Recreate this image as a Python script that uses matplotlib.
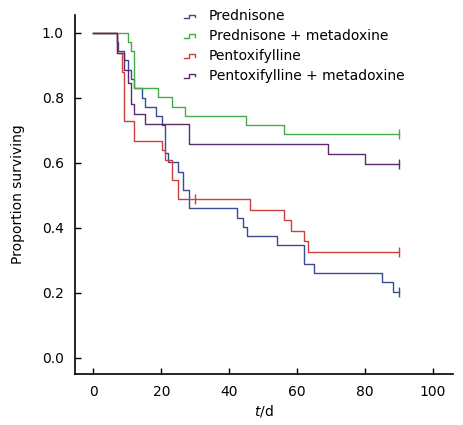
import matplotlib
matplotlib.use("Agg")
import matplotlib.pyplot as plt
from matplotlib.lines import Line2D
from matplotlib.legend_handler import HandlerBase

# Kaplan-Meier steps (days, proportion surviving)
pred_t = [0, 7.0, 7.4, 9.1, 10.1, 11.1, 12.1, 14.2, 15.3, 18.3, 20.1, 21.2, 22.1,
          25.0, 26.3, 28.2, 42.2, 44.1, 45.1, 54.1, 62.1, 65.0, 85.0, 88.2, 90]
pred_s = [1.0, 0.971, 0.943, 0.917, 0.886, 0.858, 0.830, 0.800, 0.771, 0.743, 0.716,
          0.630, 0.602, 0.573, 0.515, 0.460, 0.430, 0.402, 0.374, 0.346, 0.289, 0.260,
          0.232, 0.202, 0.202]

predm_t = [0, 10.1, 11.1, 12.1, 19.1, 23.2, 27.0, 44.9, 56.2, 90]
predm_s = [1.0, 0.972, 0.944, 0.830, 0.803, 0.772, 0.744, 0.716, 0.689, 0.689]

pent_t = [0, 7.1, 8.3, 9.0, 12.1, 20.1, 21.2, 23.2, 25.0, 46.1, 56.2, 58.3, 62.1, 63.2, 90]
pent_s = [1.0, 0.937, 0.880, 0.730, 0.668, 0.638, 0.607, 0.548, 0.489, 0.455, 0.424,
          0.391, 0.358, 0.325, 0.325]

pentm_t = [0, 7.1, 9.1, 10.1, 11.1, 12.1, 15.3, 28.2, 69.1, 80.0, 90]
pentm_s = [1.0, 0.937, 0.886, 0.845, 0.780, 0.751, 0.719, 0.658, 0.628, 0.597, 0.597]

# censored observations
pred_cens = [90]
predm_cens = [90]
pent_cens = [30, 90]
pentm_cens = [90]

labels = ["Prednisone", "Prednisone + metadoxine", "Pentoxifylline",
          "Pentoxifylline + metadoxine"]
colors = ["#3b4c8e", "#48a948", "#cc3f3f", "#5a2c6c"]

series = [(pred_t, pred_s, pred_cens), (predm_t, predm_s, predm_cens),
          (pent_t, pent_s, pent_cens), (pentm_t, pentm_s, pentm_cens)]


class StepHandler(HandlerBase):
    """Small step glyph for the legend."""
    def create_artists(self, legend, orig_handle, xdescent, ydescent,
                       width, height, fontsize, trans):
        x0, w = -xdescent, width
        y0, h = -ydescent, height
        xs = [x0, x0 + 0.45 * w, x0 + 0.45 * w, x0 + w, x0 + w]
        ys = [y0 + 0.2 * h, y0 + 0.2 * h, y0 + 0.6 * h, y0 + 0.6 * h, y0 + 0.35 * h]
        line = Line2D(xs, ys, color=orig_handle.get_color(), lw=1.0, transform=trans)
        return [line]


plt.rcParams["font.family"] = "DejaVu Sans"
plt.rcParams["font.size"] = 10

fig = plt.figure(figsize=(4.63, 4.25), dpi=100)
ax = fig.add_axes([0.162, 0.12, 0.816, 0.845])

handles = []
for (t, s, cens), col, lab in zip(series, colors, labels):
    ln, = ax.step(t, s, where="post", color=col, lw=1.0, label=lab)
    cs = []
    for c in cens:
        # survival at censoring time
        val = [sv for tv, sv in zip(t, s) if tv <= c][-1]
        cs.append(val)
    ax.plot(cens, cs, ls="none", marker="|", ms=7, mew=1.0, color=col)
    handles.append(ln)

ax.set_xlim(-5.4, 105.8)
ax.set_ylim(-0.05, 1.055)
ax.set_xticks([0, 20, 40, 60, 80, 100])
ax.set_yticks([0.0, 0.2, 0.4, 0.6, 0.8, 1.0])
ax.set_yticklabels(["0.0", "0.2", "0.4", "0.6", "0.8", "1.0"])
ax.tick_params(direction="in", length=4.5, width=1.0, pad=8)
ax.spines["top"].set_visible(False)
ax.spines["right"].set_visible(False)
ax.spines["left"].set_linewidth(1.2)
ax.spines["bottom"].set_linewidth(1.2)

ax.set_xlabel("$t$/d", labelpad=3)
ax.set_ylabel("Proportion surviving", labelpad=12)

fig.legend(handles, labels, handler_map={Line2D: StepHandler()},
           loc="upper left", bbox_to_anchor=(0.397, 0.978), frameon=False,
           handlelength=0.8, handletextpad=1.0, labelspacing=0.42, borderpad=0,
           borderaxespad=0)

fig.savefig("out.png", dpi=100)
